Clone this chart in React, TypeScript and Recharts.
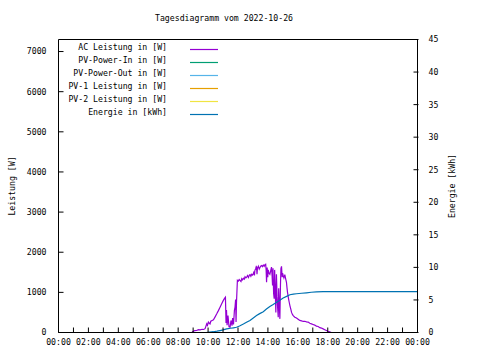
import { ComposedChart, Line, XAxis, YAxis, Legend } from 'recharts'

const FONT = '"DejaVu Sans Mono", "Liberation Mono", monospace'

// AC Leistung [W], Zeit in Stunden
export const acHours = [
    8.93, 8.96, 9.02, 9.1, 9.24, 9.35, 9.47, 9.6, 9.7, 9.8, 9.91, 9.96, 10.02, 10.08, 10.13, 10.18,
    10.27, 10.36, 10.47, 10.58, 10.69, 10.8, 10.91, 11.02, 11.1, 11.16, 11.2, 11.23, 11.27, 11.33,
    11.4, 11.47, 11.53, 11.6, 11.64, 11.7, 11.76, 11.8, 11.84, 11.87, 11.9, 11.96, 12.02, 12.08,
    12.13, 12.2, 12.25, 12.3, 12.36, 12.42, 12.47, 12.53, 12.58, 12.64, 12.7, 12.76, 12.8, 12.86,
    12.91, 12.97, 13.02, 13.07, 13.1, 13.13, 13.18, 13.22, 13.24, 13.27, 13.3, 13.36, 13.42, 13.47,
    13.53, 13.58, 13.63, 13.69, 13.75, 13.8, 13.85, 13.88, 13.91, 13.95, 13.99, 14.02, 14.07, 14.13,
    14.18, 14.24, 14.28, 14.31, 14.34, 14.38, 14.42, 14.45, 14.49, 14.53, 14.57, 14.61, 14.65, 14.69,
    14.72, 14.76, 14.8, 14.84, 14.87, 14.91, 14.95, 14.98, 15.02, 15.07, 15.13, 15.18, 15.24, 15.28,
    15.31, 15.38, 15.42, 15.47, 15.53, 15.58, 15.64, 15.69, 15.8, 15.91, 16.02, 16.13, 16.25, 16.36,
    16.47, 16.58, 16.69, 16.8, 16.91, 17.02, 17.13, 17.24, 17.36, 17.47, 17.58, 17.69, 17.8, 17.91,
    18.02, 18.13, 18.24,
]
export const acWatts = [
    0, 20, 30, 45, 50, 70, 65, 80, 75, 95, 215, 180, 260, 230, 215, 280,
    300, 315, 390, 465, 545, 630, 715, 800, 850, 880, 240, 560, 180, 420,
    140, 130, 300, 170, 360, 200, 550, 630, 820, 260, 760, 1300, 1280, 1320,
    1300, 1270, 1340, 1310, 1350, 1330, 1390, 1360, 1380, 1420, 1370, 1430, 1440, 1400,
    1450, 1430, 1460, 1520, 1420, 1550, 1590, 1640, 1630, 1450, 1600, 1650, 1580, 1620,
    1660, 1670, 1640, 1680, 1650, 1690, 1700, 1560, 1250, 1620, 1380, 1560, 1480, 1450,
    1530, 1630, 1400, 1170, 1600, 980, 840, 1560, 1050, 500, 1450, 900, 620, 380,
    1100, 700, 340, 1200, 1590, 1650, 1380, 1480, 1420, 1360, 1440, 1350, 1250, 1100,
    1000, 840, 760, 670, 580, 500, 450, 420, 380, 360, 330, 300, 290, 275,
    280, 265, 260, 230, 215, 200, 185, 160, 150, 120, 110, 90, 70, 50,
    30, 15, 0,
]

// Energie [kWh]
export const energyHours = [
    9.87, 10.1, 10.36, 10.6, 10.8, 11.0, 11.24, 11.5, 11.7, 11.9, 12.1, 12.36, 12.6, 12.8, 13.0,
    13.24, 13.45, 13.69, 13.9, 14.13, 14.35, 14.58, 14.8, 15.02, 15.25, 15.47, 15.7, 15.91, 16.25,
    16.58, 16.9, 17.24, 17.69, 18.5, 24,
]
export const energyKwh = [
    0, 0.05, 0.12, 0.2, 0.3, 0.4, 0.55, 0.65, 0.72, 0.8, 1.0, 1.3, 1.6, 1.85, 2.2,
    2.6, 2.9, 3.2, 3.6, 4.0, 4.3, 4.65, 4.95, 5.3, 5.55, 5.8, 5.9, 5.95, 6.03,
    6.1, 6.18, 6.24, 6.27, 6.27, 6.27,
]

export const legendNames = [
    'AC Leistung in [W]',
    'PV-Power-In in [W]',
    'PV-Power-Out in [W]',
    'PV-1 Leistung in [W]',
    'PV-2 Leistung in [W]',
    'Energie in [kWh]',
]
export const legendColors = ['#9400d3', '#009e73', '#56b4e9', '#e69f00', '#f0e442', '#0072b2']

export const hourTicks = [0, 1, 2, 3, 4, 5, 6, 7, 8, 9, 10, 11, 12, 13, 14, 15, 16, 17, 18, 19, 20, 21, 22, 23, 24]
export const wattTicks = [0, 1000, 2000, 3000, 4000, 5000, 6000, 7000]
export const kwhTicks = [0, 5, 10, 15, 20, 25, 30, 35, 40, 45]

const acData = acHours.map((t, i) => ({ t, ac: acWatts[i] }))
const energyData = energyHours.map((t, i) => ({ t, energie: energyKwh[i] }))

const fmtHour = (h: number) => (h % 2 === 0 ? `${String(h % 24).padStart(2, '0')}:00` : '')

const tickStyle = { fontSize: 8.2, fontFamily: FONT, fill: '#000' }

const Overlay = () => (
    <svg width={480} height={360} style={{ fontFamily: FONT, fontSize: 8.2 }}>
        <text x={224} y={21} textAnchor='middle' fill='#000'>
            Tagesdiagramm vom 2022-10-26
        </text>
        {legendNames.map((name, i) => (
            <g key={name}>
                <text x={167} y={50 + i * 13} textAnchor='end' fill='#000'>
                    {name}
                </text>
                <line x1={190} x2={218} y1={49.5 + i * 13} y2={49.5 + i * 13} stroke={legendColors[i]} strokeWidth={1.2} />
            </g>
        ))}
        <text x={15} y={186} transform='rotate(-90 15 186)' textAnchor='middle' fill='#000'>
            Leistung [W]
        </text>
        <text x={455} y={186} transform='rotate(-90 455 186)' textAnchor='middle' fill='#000'>
            Energie [kWh]
        </text>
    </svg>
)

export default function App() {
    return (
        <div style={{ position: 'absolute', left: 0, top: 0, background: '#fff' }}>
            <ComposedChart width={480} height={360} margin={{ top: 38.5, right: 0.5, bottom: 0.5, left: 0.5 }}>
                <XAxis
                    xAxisId={0}
                    dataKey='t'
                    type='number'
                    domain={[0, 24]}
                    ticks={hourTicks}
                    tickFormatter={fmtHour}
                    interval={0}
                    height={27}
                    tickSize={-5}
                    tickMargin={12}
                    tick={tickStyle}
                    stroke='#000'
                    allowDataOverflow
                />
                <XAxis
                    xAxisId='top'
                    orientation='top'
                    type='number'
                    domain={[0, 24]}
                    ticks={hourTicks}
                    tick={false}
                    height={1}
                    tickSize={-5}
                    stroke='#000'
                />
                <YAxis
                    yAxisId='w'
                    domain={[0, 7300]}
                    ticks={wattTicks}
                    width={58}
                    tickSize={-5}
                    tickMargin={17}
                    tick={tickStyle}
                    stroke='#000'
                    allowDataOverflow
                />
                <YAxis
                    yAxisId='kwh'
                    orientation='right'
                    domain={[0, 45]}
                    ticks={kwhTicks}
                    width={61}
                    axisLine={false}
                    tickSize={-5}
                    tickMargin={15}
                    tick={tickStyle}
                    stroke='#000'
                />
                <YAxis
                    yAxisId='amirror'
                    orientation='right'
                    domain={[0, 7300]}
                    ticks={wattTicks}
                    width={1}
                    tick={false}
                    tickSize={-5}
                    stroke='#000'
                />
                <Legend
                    layout='horizontal'
                    verticalAlign='middle'
                    align='center'
                    wrapperStyle={{ position: 'absolute', left: 0, top: 0, width: 480, height: 360, pointerEvents: 'none' }}
                    content={() => <Overlay />}
                />
                <Line
                    data={acData}
                    yAxisId='w'
                    dataKey='ac'
                    name='AC Leistung in [W]'
                    stroke={legendColors[0]}
                    strokeWidth={1.2}
                    dot={false}
                    isAnimationActive={false}
                />
                <Line
                    data={energyData}
                    yAxisId='kwh'
                    dataKey='energie'
                    name='Energie in [kWh]'
                    stroke={legendColors[5]}
                    strokeWidth={1.2}
                    dot={false}
                    isAnimationActive={false}
                />
            </ComposedChart>
        </div>
    )
}
